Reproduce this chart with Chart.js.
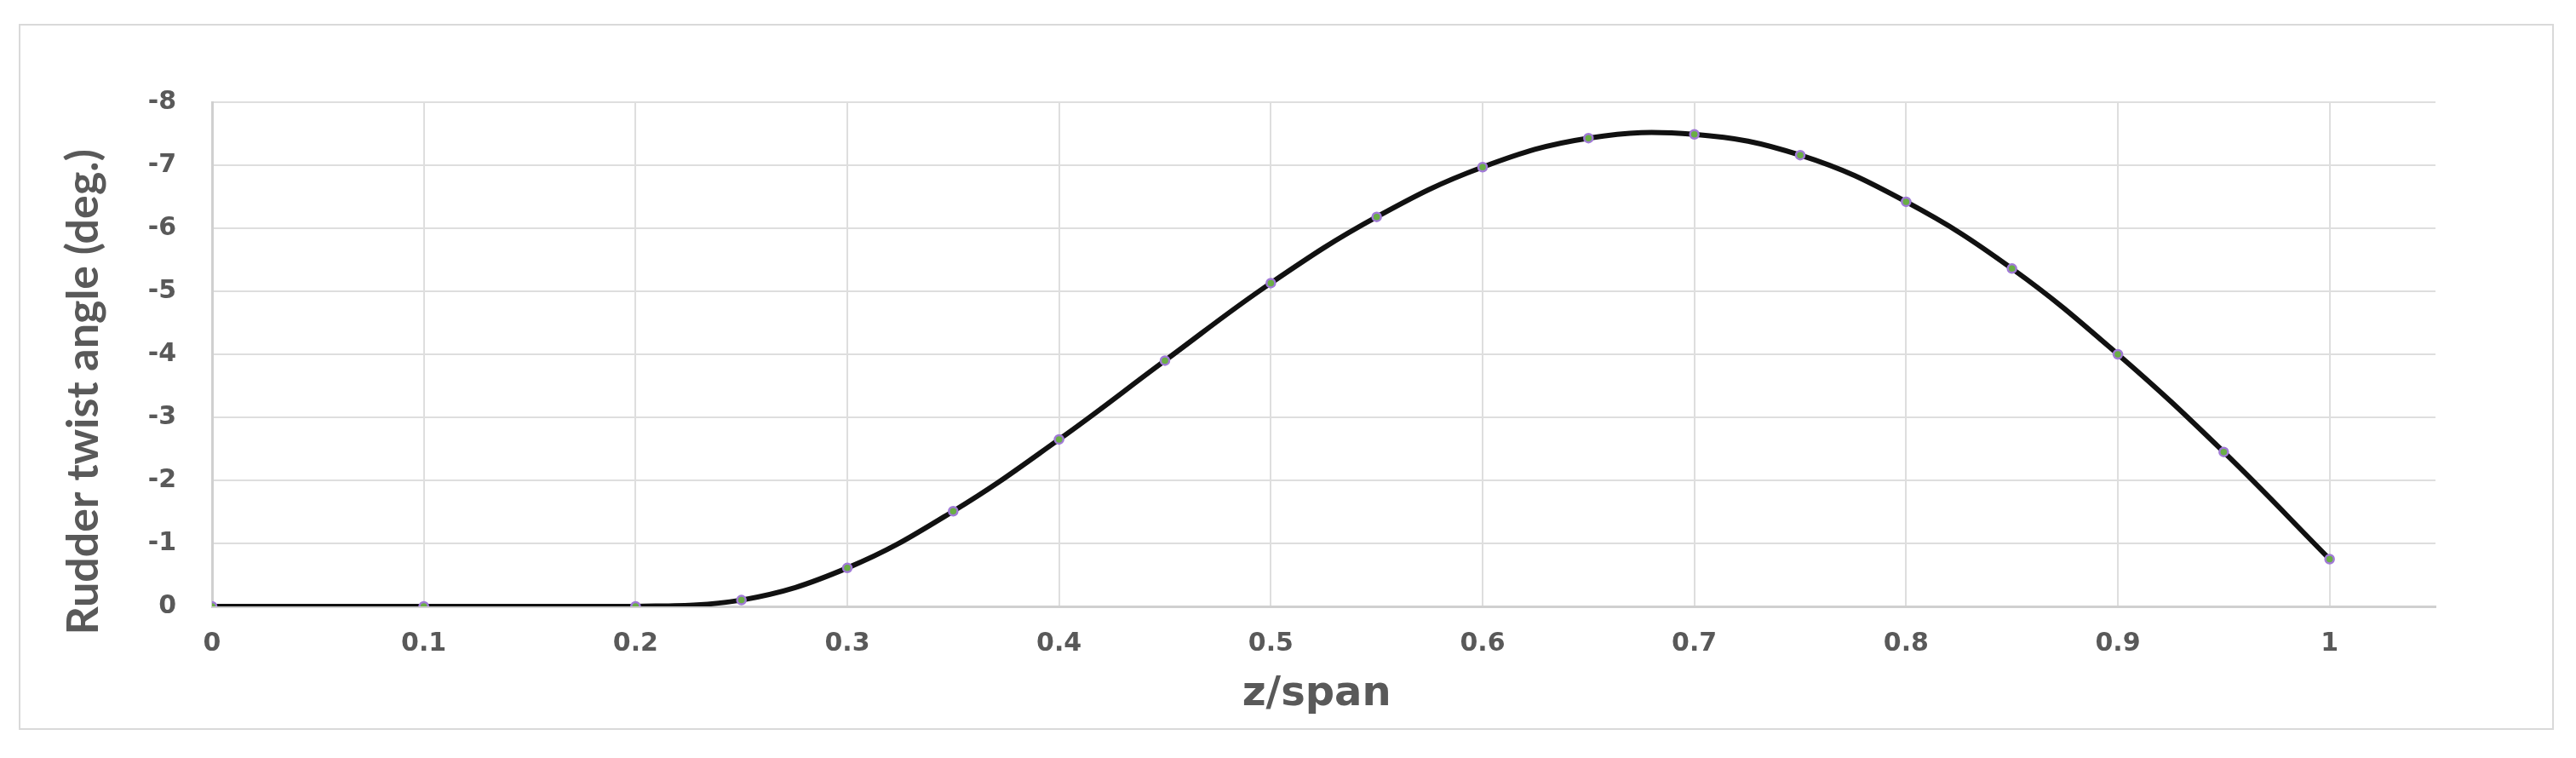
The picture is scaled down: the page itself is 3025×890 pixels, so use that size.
<!DOCTYPE html>
<html>
<head>
<meta charset="utf-8">
<script src="https://cdn.jsdelivr.net/npm/chart.js@4.4.1/dist/chart.umd.min.js"></script>
<style>
  html, body { margin: 0; padding: 0; background: #ffffff; overflow: hidden; }
  #frame { position: absolute; left: 22px; top: 28px; width: 2973px; height: 825px; border: 2px solid #d9d9d9; }
  #c { position: absolute; left: 0; top: 0; }
</style>
</head>
<body>
<div id="frame"></div>
<canvas id="c" width="3025" height="890"></canvas>
<script>
// ---- data ----
const zSpan = [0, 0.1, 0.2, 0.25, 0.3, 0.35, 0.4, 0.45, 0.5, 0.55, 0.6, 0.65, 0.7, 0.75, 0.8, 0.85, 0.9, 0.95, 1.0];
const twistAngle = [0, 0, 0, -0.1, -0.61, -1.51, -2.65, -3.90, -5.13, -6.18, -6.97, -7.43, -7.49, -7.16, -6.42, -5.36, -4.00, -2.45, -0.75];
const xTickValues = [0, 0.1, 0.2, 0.3, 0.4, 0.5, 0.6, 0.7, 0.8, 0.9, 1];
const xTickLabels = ['0', '0.1', '0.2', '0.3', '0.4', '0.5', '0.6', '0.7', '0.8', '0.9', '1'];
const yTickValues = [-8, -7, -6, -5, -4, -3, -2, -1, 0];
const yTickLabels = ['-8', '-7', '-6', '-5', '-4', '-3', '-2', '-1', '0'];
const xAxisTitle = 'z/span';
const yAxisTitle = 'Rudder twist angle (deg.)';

const points = zSpan.map((z, i) => ({ x: z, y: twistAngle[i] }));
const NB = '\u00A0';
const gridColor = '#dedede';
const textColor = '#595959';

new Chart(document.getElementById('c'), {
  type: 'line',
  data: {
    datasets: [{
      data: points,
      borderColor: '#111111',
      borderWidth: 6,
      tension: 0.4,
      pointRadius: 5,
      pointBorderWidth: 2.5,
      pointBackgroundColor: '#6aae45',
      pointBorderColor: '#a07ad6',
      fill: false
    }]
  },
  options: {
    responsive: false,
    animation: false,
    layout: { padding: { left: 23, right: 165, top: 120, bottom: 46 } },
    plugins: { legend: { display: false }, tooltip: { enabled: false } },
    scales: {
      x: {
        type: 'linear',
        min: 0,
        max: 1.05,
        afterBuildTicks: s => { s.ticks = xTickValues.map(v => ({ value: v })); },
        afterFit: s => { s.height = 132; },
        ticks: {
          padding: 26,
          color: textColor,
          font: { family: 'DejaVu Sans', weight: 'bold', size: 30 },
          callback: (v) => { const i = xTickValues.findIndex(t => Math.abs(t - v) < 1e-9); return i >= 0 ? xTickLabels[i] : ''; },
          maxRotation: 0
        },
        grid: { color: gridColor, lineWidth: 2, drawTicks: false },
        border: { color: '#d0d0d0', width: 3 },
        title: {
          display: true,
          text: xAxisTitle + NB,
          color: textColor,
          font: { family: 'DejaVu Sans', weight: 'bold', size: 48 },
          padding: { top: 0, bottom: 0 }
        }
      },
      y: {
        type: 'linear',
        min: -8,
        max: 0,
        reverse: true,
        afterBuildTicks: s => { s.ticks = yTickValues.map(v => ({ value: v })); },
        afterFit: s => { s.width = 226; },
        ticks: {
          padding: 42,
          color: textColor,
          font: { family: 'DejaVu Sans', weight: 'bold', size: 30 },
          callback: (v) => { const i = yTickValues.indexOf(Math.round(v)); return i >= 0 ? yTickLabels[i] : ''; }
        },
        grid: { color: gridColor, lineWidth: 2, drawTicks: false },
        border: { color: '#d0d0d0', width: 3 },
        title: {
          display: true,
          text: yAxisTitle + NB.repeat(7),
          color: textColor,
          font: { family: 'Lato', weight: 'bold', size: 52 },
          padding: { top: 44, bottom: 0 }
        }
      }
    }
  }
});
</script>
</body>
</html>
